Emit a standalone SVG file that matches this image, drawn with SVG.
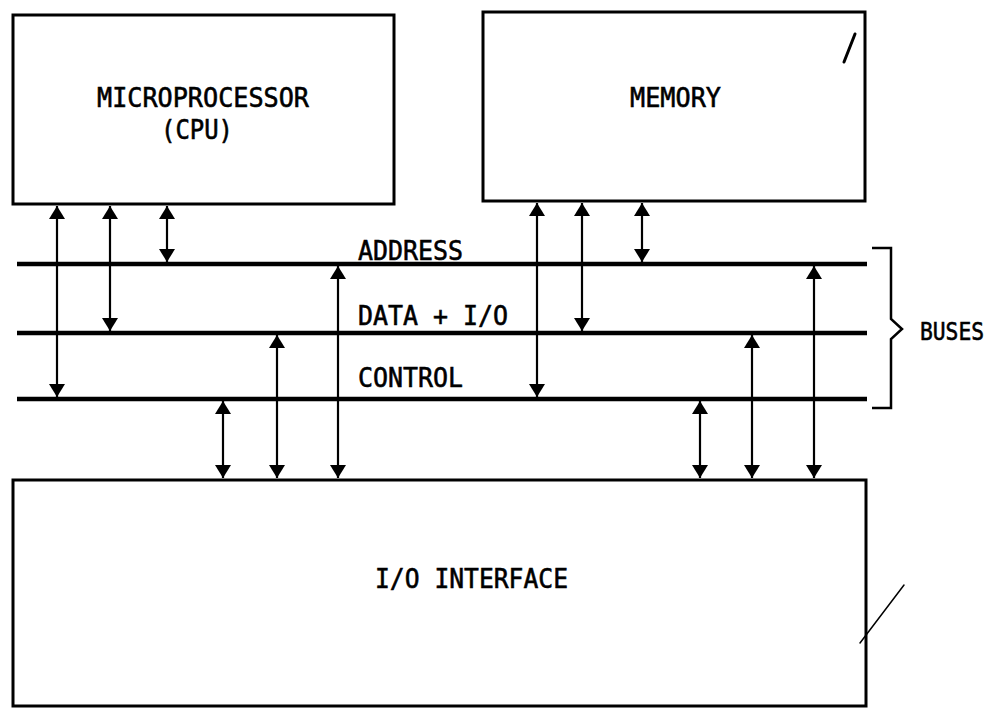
<svg xmlns="http://www.w3.org/2000/svg" width="997" height="715" viewBox="0 0 997 715">
<style>
.box{fill:#fff;stroke:#000;stroke-width:3}
.bus{stroke:#000;stroke-width:4.5;fill:none}
.arr{stroke:#000;stroke-width:2.2;fill:none;marker-start:url(#ah);marker-end:url(#ah)}
.lbl{font-family:"DejaVu Sans Mono","Liberation Mono",monospace;font-size:27px;fill:#000;stroke:#000;stroke-width:0.6}
.mark{stroke:#000;fill:none;stroke-linecap:round}
</style>
<defs>
<marker id="ah" markerUnits="userSpaceOnUse" markerWidth="14" markerHeight="17" refX="13" refY="8" orient="auto-start-reverse" viewBox="0 0 14 17">
<path d="M0,0 L13,8 L0,16 Z" fill="#000"/>
</marker>
</defs>
<rect width="997" height="715" fill="#fff"/>

<g id="cpu">
<rect class="box" x="13" y="15" width="381" height="189"/>
<text class="lbl" x="97" y="107" textLength="212" lengthAdjust="spacingAndGlyphs">MICROPROCESSOR</text>
<text class="lbl" x="161" y="139" textLength="72" lengthAdjust="spacingAndGlyphs">(CPU)</text>
</g>

<g id="memory">
<rect class="box" x="483" y="12" width="382" height="189"/>
<text class="lbl" x="630" y="107" textLength="91" lengthAdjust="spacingAndGlyphs">MEMORY</text>
<line class="mark" x1="844" y1="62" x2="855" y2="34" stroke-width="3"/>
</g>

<g id="io">
<rect class="box" x="13" y="480" width="853" height="226"/>
<text class="lbl" x="375" y="588" textLength="193" lengthAdjust="spacingAndGlyphs">I/O INTERFACE</text>
<line class="mark" x1="860" y1="643" x2="904" y2="585" stroke-width="1.5"/>
</g>

<g id="buses">
<line class="bus" x1="17" y1="264" x2="867" y2="264"/>
<line class="bus" x1="17" y1="333" x2="867" y2="333"/>
<line class="bus" x1="17" y1="399" x2="867" y2="399"/>
<text class="lbl" x="358" y="260" textLength="105" lengthAdjust="spacingAndGlyphs">ADDRESS</text>
<text class="lbl" x="358" y="325" textLength="150" lengthAdjust="spacingAndGlyphs">DATA + I/O</text>
<text class="lbl" x="358" y="387" textLength="105" lengthAdjust="spacingAndGlyphs">CONTROL</text>
<path d="M872,248 H891 V319 L902,329 L891,339 V408 H872" fill="none" stroke="#000" stroke-width="2.5"/>
<text class="lbl" x="920" y="340" style="font-size:25px" textLength="64" lengthAdjust="spacingAndGlyphs">BUSES</text>
</g>

<g id="connectors">
<line class="arr" x1="57" y1="206" x2="57" y2="397"/>
<line class="arr" x1="110" y1="206" x2="110" y2="331"/>
<line class="arr" x1="167" y1="206" x2="167" y2="262" stroke-width="3"/>
<line class="arr" x1="338" y1="266" x2="338" y2="478"/>
<line class="arr" x1="277" y1="335" x2="277" y2="478"/>
<line class="arr" x1="223" y1="401" x2="223" y2="478" stroke-width="3"/>
<line class="arr" x1="537" y1="203" x2="537" y2="397"/>
<line class="arr" x1="582" y1="203" x2="582" y2="331"/>
<line class="arr" x1="642" y1="203" x2="642" y2="262" stroke-width="3"/>
<line class="arr" x1="814" y1="266" x2="814" y2="478"/>
<line class="arr" x1="752" y1="335" x2="752" y2="478"/>
<line class="arr" x1="700" y1="401" x2="700" y2="478" stroke-width="3"/>
</g>
</svg>
